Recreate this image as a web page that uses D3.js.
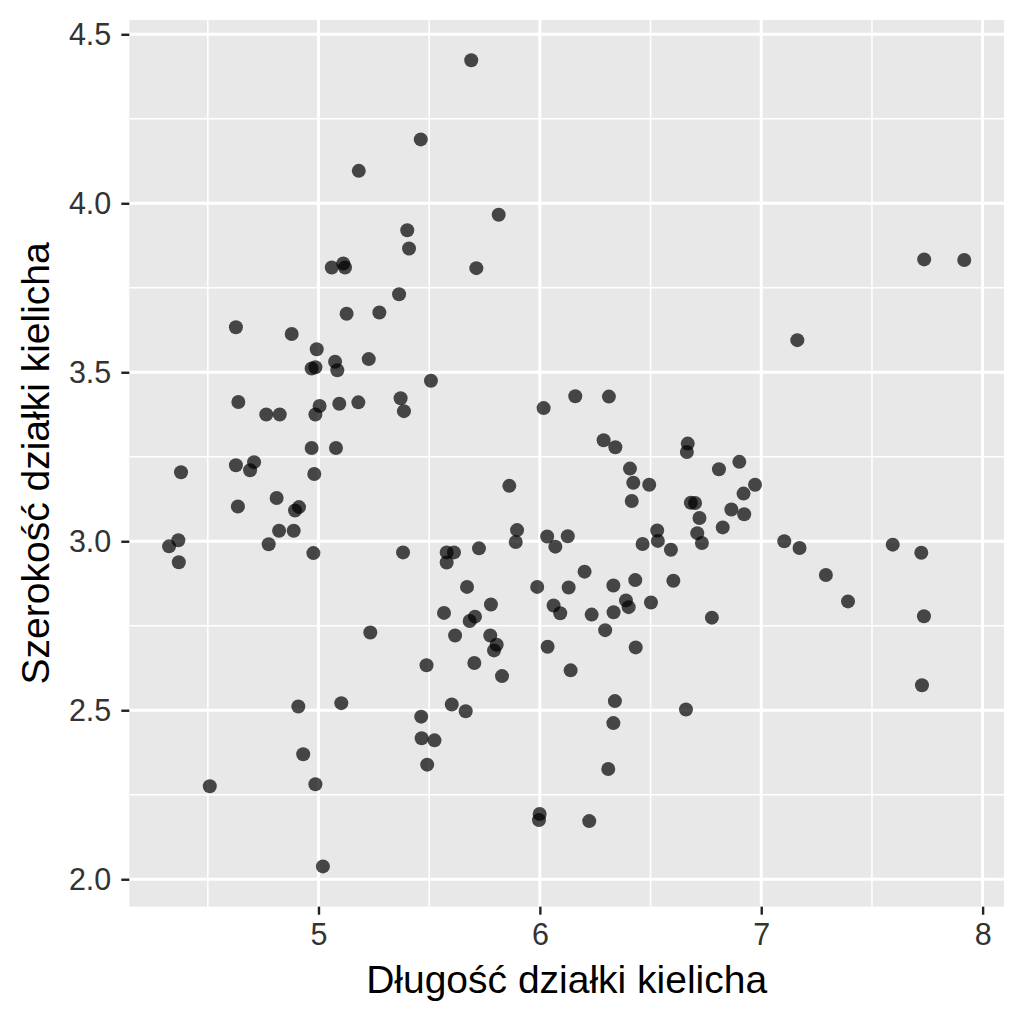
<!DOCTYPE html>
<html>
<head>
<meta charset="utf-8">
<script src="https://cdn.jsdelivr.net/npm/d3@7/dist/d3.min.js"></script>
<style>
  html, body { margin: 0; padding: 0; background: #ffffff; }
  svg { display: block; }
</style>
</head>
<body>
<svg id="chart" width="1024" height="1024"></svg>
<script>
const sepalLength = [
  5.690, 5.462, 5.182, 5.814, 5.401, 5.409, 7.736, 7.917, 5.060, 5.112,
  5.120, 5.713, 5.364, 5.127, 5.275, 4.627, 4.879, 7.163, 4.992, 4.969,
  4.986, 5.075, 5.085, 5.227, 5.508, 4.638, 4.764, 4.825, 5.005, 4.986,
  5.094, 5.180, 5.371, 5.386, 6.017, 6.160, 6.312, 6.288, 6.341, 6.668,
  6.664, 4.969, 5.079, 4.379, 4.627, 4.709, 4.691, 4.981, 6.407, 6.809,
  6.901, 6.422, 6.494, 6.415, 5.862, 6.682, 6.701, 6.865, 6.920, 6.972,
  6.923, 6.721, 6.826, 6.530, 6.533, 6.711, 6.732, 5.897, 5.891, 6.033,
  6.126, 6.070, 6.464, 6.592, 7.104, 7.173, 7.594, 7.723, 5.579, 5.612,
  5.579, 5.725, 4.811, 4.636, 4.912, 4.894, 4.822, 4.888, 4.367, 4.325,
  4.775, 4.369, 4.977, 5.382, 6.202, 6.431, 6.603, 7.292, 5.671, 5.988,
  6.130, 6.332, 5.779, 6.389, 6.401, 6.502, 7.392, 5.567, 5.707, 5.683,
  6.062, 6.092, 6.234, 6.333, 6.777, 7.735, 5.234, 6.295, 5.617, 5.776,
  5.805, 5.793, 6.035, 6.433, 5.488, 5.704, 6.139, 5.829, 7.726, 4.909,
  5.103, 6.339, 5.602, 5.665, 6.660, 5.464, 6.332, 5.466, 5.524, 4.931,
  5.491, 6.309, 4.509, 4.986, 5.999, 5.996, 6.223, 5.020
];
const sepalWidth = [
  4.423, 4.189, 4.096, 3.966, 3.920, 3.866, 3.834, 3.832, 3.810, 3.822,
  3.810, 3.808, 3.731, 3.673, 3.677, 3.633, 3.613, 3.595, 3.568, 3.511,
  3.515, 3.531, 3.506, 3.539, 3.475, 3.412, 3.375, 3.375, 3.400, 3.375,
  3.407, 3.411, 3.423, 3.385, 3.394, 3.429, 3.428, 3.299, 3.278, 3.289,
  3.264, 3.276, 3.276, 3.204, 3.225, 3.234, 3.210, 3.199, 3.215, 3.213,
  3.235, 3.173, 3.167, 3.119, 3.164, 3.114, 3.113, 3.094, 3.141, 3.167,
  3.080, 3.069, 3.041, 3.032, 3.001, 3.024, 2.995, 3.033, 2.998, 3.014,
  3.015, 2.984, 2.992, 2.975, 3.000, 2.980, 2.990, 2.966, 2.967, 2.967,
  2.937, 2.979, 3.128, 3.103, 3.101, 3.091, 3.031, 3.031, 3.003, 2.985,
  2.991, 2.938, 2.965, 2.967, 2.910, 2.885, 2.883, 2.900, 2.865, 2.865,
  2.863, 2.869, 2.813, 2.825, 2.805, 2.819, 2.822, 2.788, 2.777, 2.764,
  2.810, 2.787, 2.783, 2.790, 2.774, 2.778, 2.730, 2.737, 2.721, 2.721,
  2.694, 2.677, 2.688, 2.686, 2.633, 2.640, 2.618, 2.601, 2.574, 2.511,
  2.521, 2.527, 2.517, 2.497, 2.502, 2.481, 2.462, 2.417, 2.411, 2.370,
  2.339, 2.326, 2.275, 2.281, 2.193, 2.175, 2.172, 2.038
];

const xTicks = [5, 6, 7, 8];
const xMinor = [4.5, 5.5, 6.5, 7.5];
const yTicks = [2.0, 2.5, 3.0, 3.5, 4.0, 4.5];
const yMinor = [2.25, 2.75, 3.25, 3.75, 4.25];
const xTitle = "Długość działki kielicha";
const yTitle = "Szerokość działki kielicha";

const points = sepalLength.map((v, i) => ({ x: v, y: sepalWidth[i] }));

const panel = { left: 129.3, right: 1004, top: 20, bottom: 906.7 };
const FONT = "'Liberation Sans', Arial, Helvetica, sans-serif";

function expand(ext, f) {
  const d = (ext[1] - ext[0]) * f;
  return [ext[0] - d, ext[1] + d];
}

const x = d3.scaleLinear()
  .domain(expand(d3.extent(sepalLength), 0.05))
  .range([panel.left, panel.right]);
const y = d3.scaleLinear()
  .domain(expand(d3.extent(sepalWidth), 0.05))
  .range([panel.bottom, panel.top]);

const svg = d3.select("#chart");

// panel background
svg.append("rect")
  .attr("x", panel.left).attr("y", panel.top)
  .attr("width", panel.right - panel.left)
  .attr("height", panel.bottom - panel.top)
  .attr("fill", "#E8E8E8");

const grid = svg.append("g");
// minor grid
grid.selectAll("line.xminor").data(xMinor).enter().append("line")
  .attr("x1", d => x(d)).attr("x2", d => x(d))
  .attr("y1", panel.top).attr("y2", panel.bottom)
  .attr("stroke", "#ffffff").attr("stroke-width", 1.5);
grid.selectAll("line.yminor").data(yMinor).enter().append("line")
  .attr("y1", d => y(d)).attr("y2", d => y(d))
  .attr("x1", panel.left).attr("x2", panel.right)
  .attr("stroke", "#ffffff").attr("stroke-width", 1.5);
// major grid
grid.selectAll("line.xmajor").data(xTicks).enter().append("line")
  .attr("x1", d => x(d)).attr("x2", d => x(d))
  .attr("y1", panel.top).attr("y2", panel.bottom)
  .attr("stroke", "#ffffff").attr("stroke-width", 3);
grid.selectAll("line.ymajor").data(yTicks).enter().append("line")
  .attr("y1", d => y(d)).attr("y2", d => y(d))
  .attr("x1", panel.left).attr("x2", panel.right)
  .attr("stroke", "#ffffff").attr("stroke-width", 3);

// points
svg.append("g").selectAll("circle").data(points).enter().append("circle")
  .attr("cx", d => x(d.x))
  .attr("cy", d => y(d.y))
  .attr("r", 7)
  .attr("fill", "#000000")
  .attr("fill-opacity", 0.7);

// axes
const xAxis = d3.axisBottom(x).tickValues(xTicks).tickFormat(d3.format("d"))
  .tickSizeInner(8).tickSizeOuter(0).tickPadding(9);
const yAxis = d3.axisLeft(y).tickValues(yTicks).tickFormat(d3.format(".1f"))
  .tickSizeInner(8).tickSizeOuter(0).tickPadding(10);

const gx = svg.append("g").attr("transform", `translate(0,${panel.bottom})`).call(xAxis);
const gy = svg.append("g").attr("transform", `translate(${panel.left},0)`).call(yAxis);
[gx, gy].forEach(g => {
  g.select(".domain").remove();
  g.selectAll(".tick line").attr("stroke", "#222222").attr("stroke-width", 2.4);
  g.selectAll(".tick text")
    .attr("fill", "#333333")
    .style("font-family", FONT)
    .style("font-size", "30.5px");
});
gx.selectAll(".tick text").attr("dy", "0.71em");
gy.selectAll(".tick text").attr("dy", "0.35em");

// titles
svg.append("text")
  .attr("x", (panel.left + panel.right) / 2)
  .attr("y", 993)
  .attr("text-anchor", "middle")
  .style("font-family", FONT)
  .style("font-size", "39px")
  .attr("fill", "#000000")
  .text(xTitle);

svg.append("text")
  .attr("transform", `translate(49,${(panel.top + panel.bottom) / 2}) rotate(-90)`)
  .attr("text-anchor", "middle")
  .style("font-family", FONT)
  .style("font-size", "39px")
  .attr("fill", "#000000")
  .text(yTitle);
</script>
</body>
</html>
